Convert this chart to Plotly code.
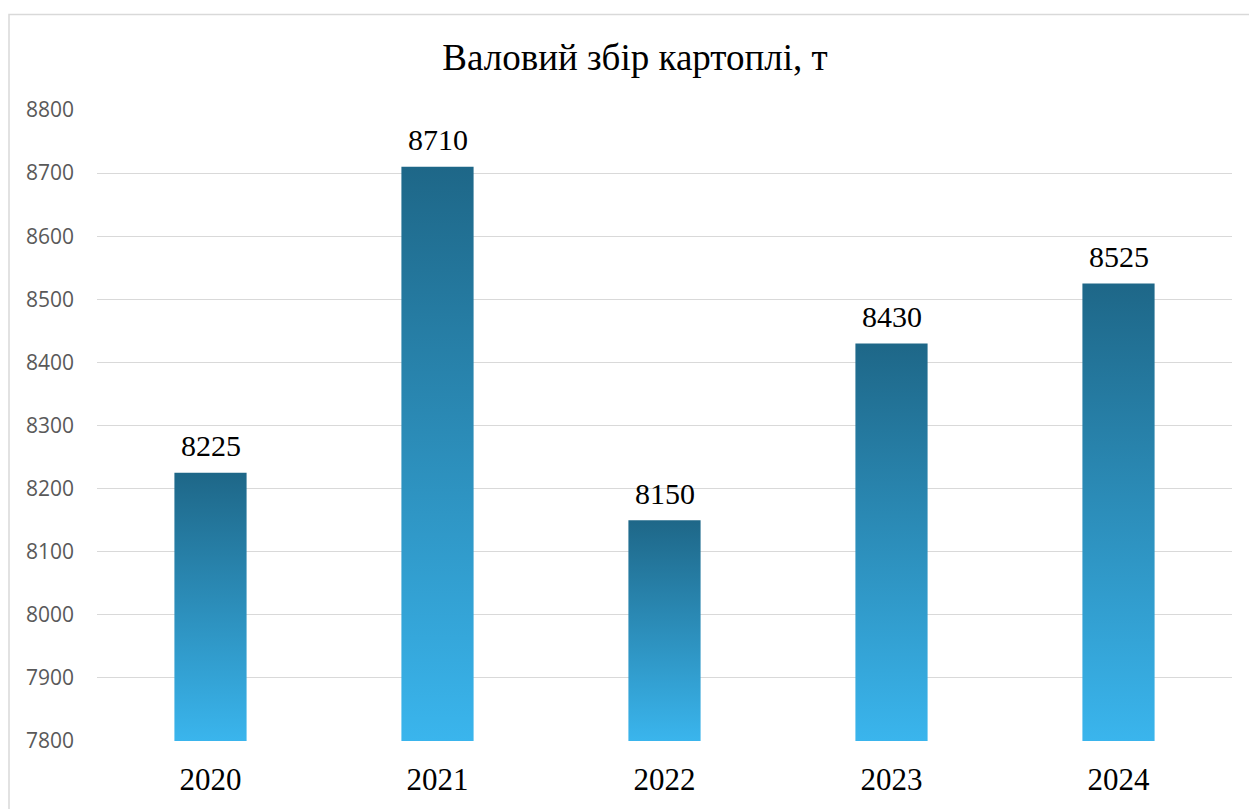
import plotly.graph_objects as go

years = ["2020", "2021", "2022", "2023", "2024"]
values = [8225, 8710, 8150, 8430, 8525]
y_ticks = [7800, 7900, 8000, 8100, 8200, 8300, 8400, 8500, 8600, 8700, 8800]

BASE = 7800
HALF_W = 0.159
COLOR_TOP = "#1e6788"
COLOR_BOTTOM = "#3ab5ed"

fig = go.Figure()

for i, (yr, v) in enumerate(zip(years, values)):
    fig.add_trace(go.Scatter(
        x=[i - HALF_W, i + HALF_W, i + HALF_W, i - HALF_W, i - HALF_W],
        y=[BASE, BASE, v, v, BASE],
        mode="lines",
        fill="toself",
        line=dict(width=0, color=COLOR_TOP),
        fillgradient=dict(type="vertical",
                          colorscale=[[0, COLOR_BOTTOM], [1, COLOR_TOP]]),
        name=yr,
        hoverinfo="skip",
        showlegend=False,
    ))
    fig.add_annotation(
        x=i, y=v, xref="x", yref="y",
        text=str(v), showarrow=False,
        yanchor="middle", yshift=27,
        font=dict(family="Liberation Serif, Times New Roman, serif", size=30, color="#000000"),
    )

ML, MR, MT, MB = 97, 17, 110, 64
W, H = 1249, 809
pw = W - ML - MR
ph = H - MT - MB

fig.update_layout(
    width=W, height=H,
    margin=dict(l=ML, r=MR, t=MT, b=MB),
    paper_bgcolor="#ffffff",
    plot_bgcolor="#ffffff",
    title=dict(
        text="Валовий збір картоплі, т",
        x=635 / W, xref="container", xanchor="center",
        y=1 - 57 / H, yref="container", yanchor="middle",
        font=dict(family="Liberation Serif, Times New Roman, serif", size=37, color="#000000"),
    ),
    xaxis=dict(
        range=[-0.5, 4.5],
        tickmode="array",
        tickvals=list(range(len(years))),
        ticktext=years,
        showgrid=False,
        zeroline=False,
        showline=False,
        ticks="",
        ticklabelstandoff=17,
        tickfont=dict(family="Liberation Serif, Times New Roman, serif", size=31, color="#000000"),
    ),
    yaxis=dict(
        range=[7800, 8800],
        tickmode="array",
        tickvals=y_ticks,
        ticktext=[str(t) for t in y_ticks],
        showgrid=True,
        gridcolor="#d9d9d9",
        gridwidth=1,
        zeroline=False,
        showline=False,
        ticks="",
        ticklabelstandoff=22,
        tickfont=dict(family="Open Sans, Liberation Sans, sans-serif", size=21, color="#595959"),
    ),
    shapes=[dict(
        type="rect", xref="paper", yref="paper",
        x0=(9 - ML) / pw, x1=(1262 - ML) / pw,
        y0=(H - MB - 830) / ph, y1=(H - MB - 14) / ph,
        line=dict(color="#d9d9d9", width=1.5),
        fillcolor="rgba(0,0,0,0)", layer="below",
    )],
)

fig.write_html("out.html")
